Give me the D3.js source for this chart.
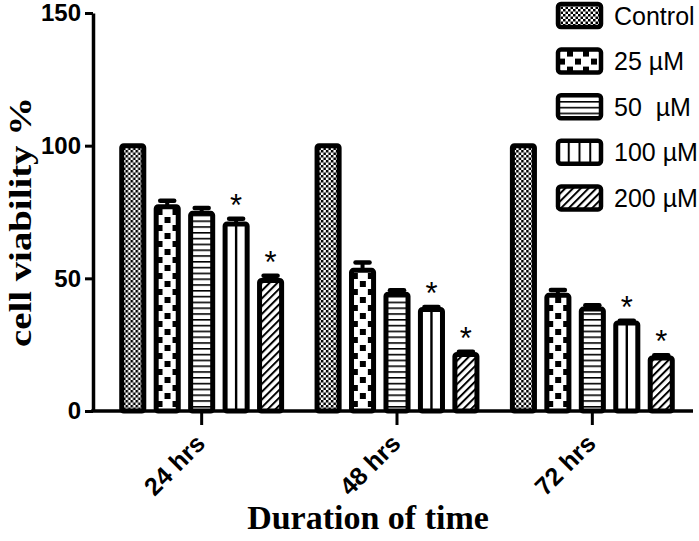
<!DOCTYPE html>
<html>
<head>
<meta charset="utf-8">
<script src="https://cdn.jsdelivr.net/npm/d3@7/dist/d3.min.js"></script>
<style>
  body { margin: 0; background: #fff; }
  svg { display: block; }
</style>
</head>
<body>
<svg id="chart" width="699" height="541"></svg>
<script>
// data
const groups = ['24 hrs', '48 hrs', '72 hrs'];
const doses = ['Control', '25 µM', '50  µM', '100 µM', '200 µM'];
const means = [
    [100, 77, 74.5, 70.5, 49.2],
    [100, 53, 44, 38.3, 21.3],
    [100, 43.6, 38.4, 33.2, 20]
];
const errs = [
    [0, 2.2, 2, 2, 1.8],
    [0, 3, 1.5, 0.9, 1],
    [0, 2, 1.5, 0.8, 1]
];
const stars = [
    [false, false, false, true, true],
    [false, false, false, true, true],
    [false, false, false, true, true]
];
const yTicks = [0, 50, 100, 150];

const svg = d3.select('#chart');
const defs = svg.append('defs');

// fill patterns
function pattern(id, w, h, draw) {
    const p = defs.append('pattern')
        .attr('id', id)
        .attr('patternUnits', 'userSpaceOnUse')
        .attr('width', w).attr('height', h);
    p.append('rect').attr('width', w).attr('height', h).attr('fill', '#fff');
    draw(p);
    return p;
}
pattern('pControl', 5, 5, p => {
    p.append('rect').attr('width', 2.5).attr('height', 2.5).attr('fill', '#000');
    p.append('rect').attr('x', 2.5).attr('y', 2.5).attr('width', 2.5).attr('height', 2.5).attr('fill', '#000');
});
pattern('p25', 16, 16, p => {
    p.append('rect').attr('x', 9).attr('y', 1).attr('width', 6).attr('height', 6).attr('fill', '#000');
    p.append('rect').attr('x', 1).attr('y', 9).attr('width', 6).attr('height', 6).attr('fill', '#000');
});
pattern('p50', 6, 5.8, p => {
    p.append('rect').attr('width', 6).attr('height', 1.6).attr('fill', '#000');
});
pattern('p100', 10.75, 10, p => {
    p.append('rect').attr('width', 2).attr('height', 10).attr('fill', '#000');
}).attr('x', 9.75);
pattern('p200', 5.5, 5.5, p => {
    p.append('rect').attr('width', 2).attr('height', 5.5).attr('fill', '#000');
}).attr('patternTransform', 'rotate(45)');

const fills = ['url(#pControl)', 'url(#p25)', 'url(#p50)', 'url(#p100)', 'url(#p200)'];

// scales
const x0 = d3.scaleBand().domain(groups).range([104, 690]).paddingInner(0.118).paddingOuter(0.059);
const x1 = d3.scaleBand().domain(doses).range([0, x0.bandwidth()]).paddingInner(0.36).paddingOuter(0.18);
const y = d3.scaleLinear().domain([0, 150]).range([411, 13]);

// bars
const gGroups = svg.append('g').selectAll('g')
    .data(groups)
    .join('g')
    .attr('transform', d => `translate(${x0(d)},0)`);

gGroups.each(function (g, gi) {
    const sel = d3.select(this);
    doses.forEach((dose, di) => {
        const v = means[gi][di], e = errs[gi][di];
        const bx = x1(dose), bw = x1.bandwidth();
        const cx = bx + bw / 2;
        if (e > 0) {
            sel.append('line')
                .attr('x1', cx).attr('x2', cx)
                .attr('y1', y(v)).attr('y2', y(v + e))
                .attr('stroke', '#000').attr('stroke-width', 4);
            sel.append('line')
                .attr('x1', cx - 7).attr('x2', cx + 7)
                .attr('y1', y(v + e)).attr('y2', y(v + e))
                .attr('stroke', '#000').attr('stroke-width', 4.5)
                .attr('stroke-linecap', 'round');
        }
        const isV = di === 3;
        sel.append('rect')
            .attr('x', bx).attr('y', y(v))
            .attr('width', bw).attr('height', y(0) - y(v))
            .attr('rx', 2)
            .attr('fill', isV ? '#fff' : fills[di])
            .attr('stroke', '#000').attr('stroke-width', 5);
        if (isV) {
            // vertical-line fill: one line down the middle of the narrow bar
            sel.append('rect')
                .attr('x', cx - 1.2).attr('y', y(v))
                .attr('width', 2.4).attr('height', y(0) - y(v))
                .attr('fill', '#000');
        }
        if (stars[gi][di]) {
            sel.append('text')
                .attr('x', cx).attr('y', y(v + e) - 3)
                .attr('text-anchor', 'middle')
                .attr('font-family', 'Liberation Sans, Arial, sans-serif')
                .attr('font-size', 31)
                .text('*');
        }
    });
});

// y axis
const yAxis = svg.append('g')
    .attr('transform', 'translate(93,0)')
    .call(d3.axisLeft(y).tickValues(yTicks).tickSize(8).tickPadding(4).tickSizeOuter(0));
yAxis.select('.domain').attr('stroke-width', 3.5);
yAxis.selectAll('.tick line').attr('stroke-width', 3);
yAxis.selectAll('.tick text')
    .attr('font-family', 'Liberation Sans, Arial, sans-serif')
    .attr('font-weight', 'bold')
    .attr('font-size', 24)
    .attr('fill', '#000');

// x axis
svg.append('line')
    .attr('x1', 91.25).attr('x2', 693)
    .attr('y1', y(0)).attr('y2', y(0))
    .attr('stroke', '#000').attr('stroke-width', 3.5);
const xAxis = svg.append('g')
    .attr('transform', `translate(0,${y(0)})`)
    .call(d3.axisBottom(x0).tickSize(14).tickSizeOuter(0));
xAxis.select('.domain').remove();
xAxis.selectAll('.tick line').attr('stroke-width', 3);
xAxis.selectAll('.tick text')
    .attr('font-family', 'Liberation Sans, Arial, sans-serif')
    .attr('font-weight', 'bold')
    .attr('font-size', 25)
    .attr('fill', '#000')
    .attr('text-anchor', 'end')
    .attr('y', 0).attr('dy', 0)
    .attr('transform', 'translate(5,34) rotate(-45)');

// axis titles
svg.append('text')
    .attr('x', 368).attr('y', 529)
    .attr('text-anchor', 'middle')
    .attr('font-family', 'Liberation Serif, Times New Roman, serif')
    .attr('font-weight', 'bold')
    .attr('font-size', 34)
    .text('Duration of time');
svg.append('text')
    .attr('transform', 'translate(31,222) rotate(-90)')
    .attr('text-anchor', 'middle')
    .attr('font-family', 'Liberation Serif, Times New Roman, serif')
    .attr('font-weight', 'bold')
    .attr('font-size', 31)
    .attr('textLength', 250)
    .attr('lengthAdjust', 'spacingAndGlyphs')
    .text('cell viability %');

// legend
const legend = svg.append('g').selectAll('g')
    .data(doses)
    .join('g')
    .attr('transform', (d, i) => `translate(558,${4 + i * 45.6})`);
legend.append('rect')
    .attr('width', 43).attr('height', 23)
    .attr('rx', 3)
    .attr('fill', (d, i) => fills[i])
    .attr('stroke', '#000').attr('stroke-width', 4.5);
legend.append('text')
    .attr('x', 56).attr('y', 11.5)
    .attr('dy', '0.36em')
    .attr('font-family', 'Liberation Sans, Arial, sans-serif')
    .attr('font-size', 25)
    .style('white-space', 'pre')
    .text(d => d);
</script>
</body>
</html>
